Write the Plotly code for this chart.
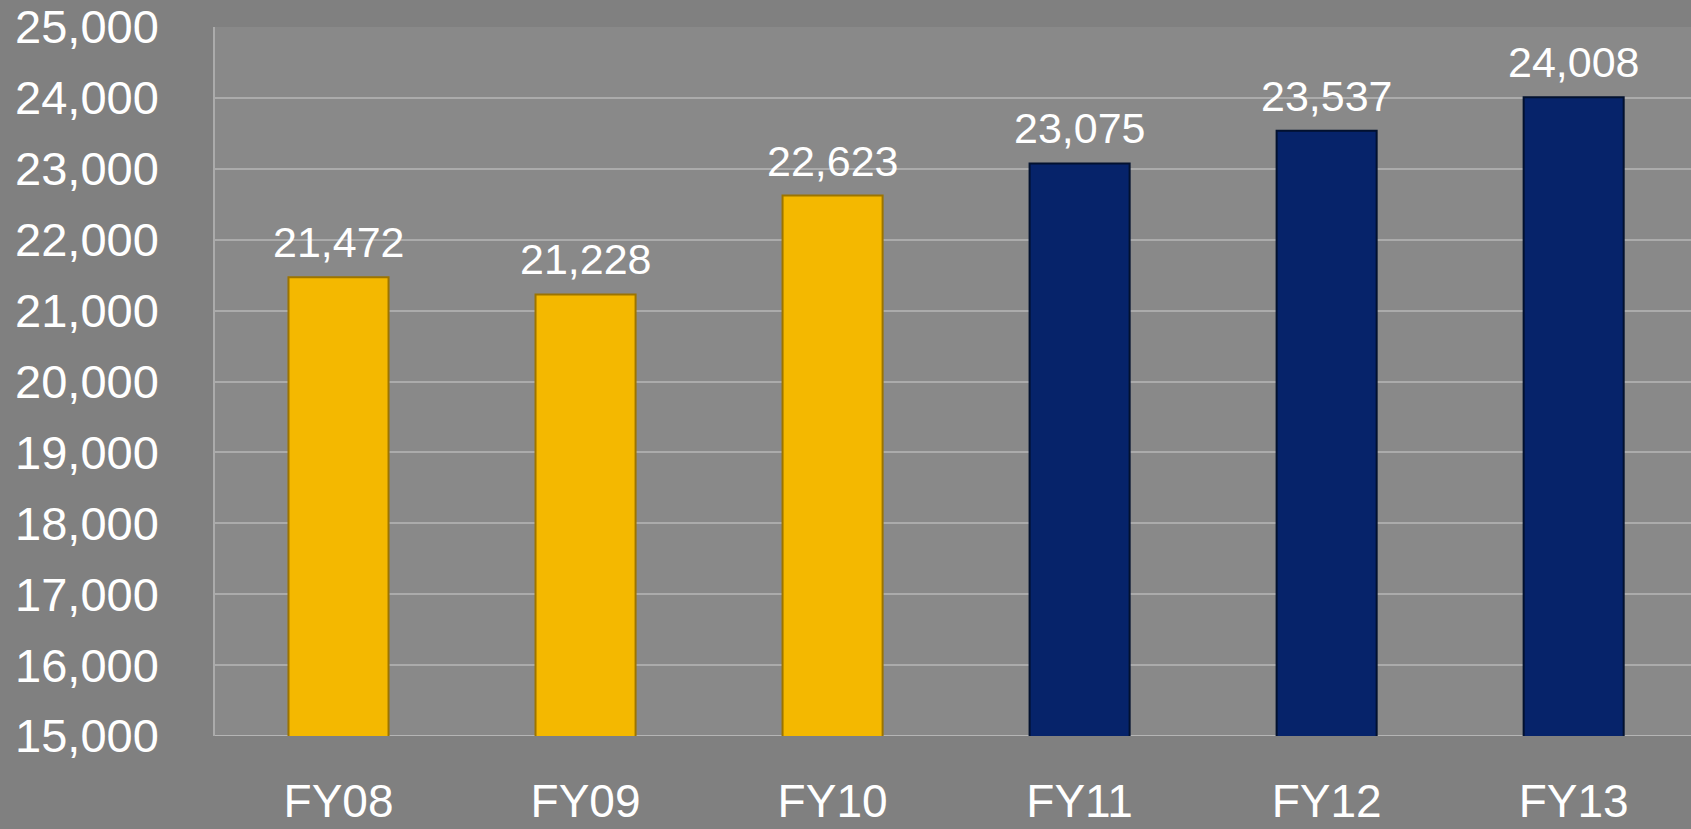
import plotly.graph_objects as go

categories = ["FY08", "FY09", "FY10", "FY11", "FY12", "FY13"]
values = [21472, 21228, 22623, 23075, 23537, 24008]
bar_colors = ["#F4B800", "#F4B800", "#F4B800", "#06236A", "#06236A", "#06236A"]
edge_colors = ["#9C7400", "#9C7400", "#9C7400", "#02112F", "#02112F", "#02112F"]
y_ticks = list(range(15000, 25001, 1000))

FONT = "Liberation Sans, Arial, sans-serif"

fig = go.Figure()
fig.add_trace(go.Bar(
    x=categories, y=values,
    marker=dict(color=bar_colors, line=dict(color=edge_colors, width=2)),
    width=0.405,
    hoverinfo="skip",
))

for c, v in zip(categories, values):
    fig.add_annotation(x=c, y=v, text=f"{v:,}", showarrow=False,
                       yanchor="bottom", yshift=9,
                       font=dict(family=FONT, size=43, color="white"))

fig.update_layout(
    width=1691, height=829,
    margin=dict(l=215, r=0, t=27, b=93, autoexpand=False),
    paper_bgcolor="#808080",
    plot_bgcolor="#898989",
    showlegend=False,
    font=dict(family=FONT, color="white"),
    xaxis=dict(
        range=[-0.5, 5.475],
        automargin=False,
        tickfont=dict(size=46, color="white"),
        ticklabelstandoff=34,
        showgrid=False, showline=False, ticks="",
    ),
    yaxis=dict(
        range=[15000, 25000],
        automargin=False,
        tickvals=y_ticks,
        tickformat=",d",
        tickfont=dict(size=47, color="white"),
        ticklabelstandoff=45,
        showgrid=True, gridcolor="#ABABAB", gridwidth=1.5,
        showline=True, linecolor="#ABABAB", linewidth=1.5,
        zeroline=False, ticks="",
    ),
)
fig.add_shape(type="line", xref="paper", yref="y", x0=0, x1=1, y0=15000, y1=15000,
              line=dict(color="#B5B5B5", width=2), layer="below")

fig.write_html("out.html", config={"displayModeBar": False},
               post_script="document.body.style.margin='0';document.body.style.overflow='hidden';")
